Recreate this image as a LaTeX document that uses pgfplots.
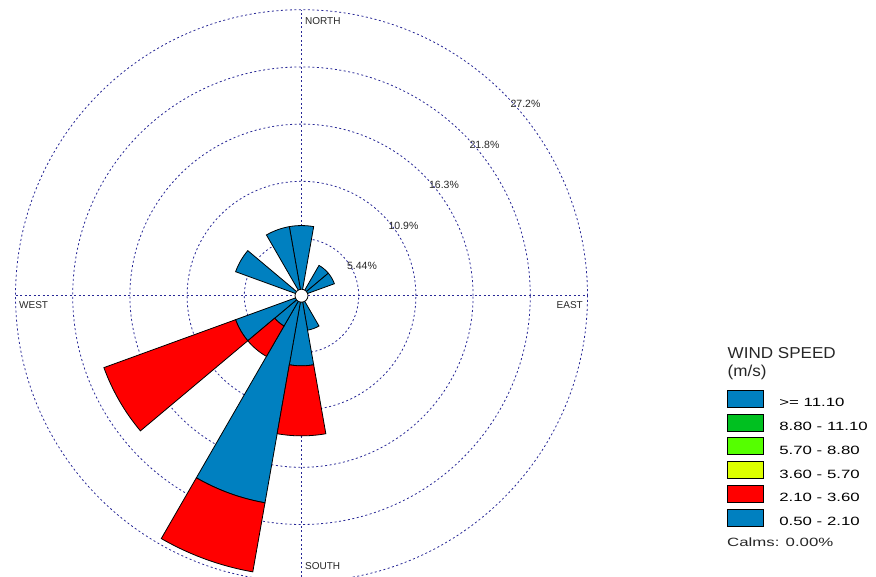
\documentclass[border=0pt]{standalone}
\usepackage{pgfplots}
\pgfplotsset{compat=1.18}
\usepackage{fontspec}
\setmainfont{Liberation Sans}
\newfontfamily\legfont[FakeStretch=1.4]{Liberation Sans}
\newfontfamily\titfont[FakeStretch=1.08]{Liberation Sans}
\definecolor{wblue}{RGB}{0,128,192}
\definecolor{wred}{RGB}{255,0,0}
\definecolor{wgreen}{RGB}{0,192,32}
\definecolor{wlime}{RGB}{85,255,0}
\definecolor{wyellow}{RGB}{221,255,0}
\definecolor{gridnavy}{RGB}{40,40,150}

\def\Uscale{10.5147} % pt per percent (286pt / 27.2)

\pgfplotsset{
  petal/.style={
    scatter, only marks, mark=text, text mark={},
    visualization depends on={\thisrow{dir} \as \pdir},
    visualization depends on={\thisrow{r0} \as \pra},
    visualization depends on={\thisrow{r1} \as \prb},
    scatter/@pre marker code/.code={%
      \pgfmathsetmacro\th{90-\pdir}%
      \pgfmathsetmacro\ta{\th-10}%
      \pgfmathsetmacro\tb{\th+10}%
      \pgfmathsetmacro\ra{max(\pra*\Uscale,0.01)}%
      \pgfmathsetmacro\rb{\prb*\Uscale}%
      \pgfmathsetmacro\ox{-\rb*cos(\th)}%
      \pgfmathsetmacro\oy{-\rb*sin(\th)}%
      \pgfmathsetmacro\xa{\ox+\ra*cos(\ta)}%
      \pgfmathsetmacro\ya{\oy+\ra*sin(\ta)}%
      \pgfmathsetmacro\xb{\ox+\rb*cos(\ta)}%
      \pgfmathsetmacro\yb{\oy+\rb*sin(\ta)}%
      \pgfmathsetmacro\xc{\ox+\ra*cos(\tb)}%
      \pgfmathsetmacro\yc{\oy+\ra*sin(\tb)}%
      \filldraw[fill=#1, draw=black, line width=0.8pt, line join=miter]
        (\xa pt,\ya pt) -- (\xb pt,\yb pt)
        arc[start angle=\ta, end angle=\tb, radius=\rb pt]
        -- (\xc pt,\yc pt)
        arc[start angle=\tb, end angle=\ta, radius=\ra pt] -- cycle;
    },
    scatter/@post marker code/.code={},
  },
}
\tikzset{ring/.style={gridnavy, dash pattern=on 2pt off 2.5pt, line width=0.8pt}}

\begin{document}
\begin{tikzpicture}
\begin{axis}[
  hide axis, scale only axis,
  x=10.5147pt, y=10.5147pt,
  xmin=-28.674, xmax=54.638, ymin=-26.658, ymax=28.122,
  clip=false,
  legend cell align=left,
  legend image code/.code={%
    \draw[#1, draw=black, line width=0.8pt] (0pt,-4pt) rectangle (36pt,13pt);
    \path[draw=none, fill=none] (0pt,0pt) -- (52pt,0pt);},
  legend style={at={(axis description cs:0.8299,0.3229)}, anchor=north west,
    draw=none, fill=none, inner sep=0pt, outer sep=0pt, row sep=5.4pt,
    font=\legfont\fontsize{12}{14}\selectfont,
    nodes={inner sep=0pt}},
]
% grid: rings every 5.44 % and compass lines
\draw[ring] (axis cs:0,0) circle[radius=57.2pt];
\draw[ring] (axis cs:0,0) circle[radius=114.4pt];
\draw[ring] (axis cs:0,0) circle[radius=171.6pt];
\draw[ring] (axis cs:0,0) circle[radius=228.8pt];
\draw[ring] (axis cs:0,0) circle[radius=286pt];
\draw[ring] (axis cs:-27.2,0) -- (axis cs:27.2,0);
\draw[ring] (axis cs:0,-27.2) -- (axis cs:0,27.2);

% 0.50 - 2.10 m/s class: direction (deg from north), inner and outer radius (%)
\addplot[petal=wblue, forget plot] table[x expr={\thisrow{r1}*sin(\thisrow{dir})}, y expr={\thisrow{r1}*cos(\thisrow{dir})}] {
dir r0 r1
0   0 6.67
40  0 3.33
60  0 3.33
160 0 3.33
180 0 6.67
200 0 20.00
220 0 3.33
240 0 6.67
300 0 6.67
340 0 6.67
};
% 2.10 - 3.60 m/s class (stacked on the first)
\addplot[petal=wred, forget plot] table[x expr={\thisrow{r1}*sin(\thisrow{dir})}, y expr={\thisrow{r1}*cos(\thisrow{dir})}] {
dir r0    r1
180 6.67  13.33
200 20.00 26.67
220 3.33  6.67
240 6.67  20.00
};
\coordinate (C) at (axis cs:0,0);

\addlegendimage{fill=wblue}\addlegendentry{>= 11.10}
\addlegendimage{fill=wgreen}\addlegendentry{8.80 - 11.10}
\addlegendimage{fill=wlime}\addlegendentry{5.70 - 8.80}
\addlegendimage{fill=wyellow}\addlegendentry{3.60 - 5.70}
\addlegendimage{fill=wred}\addlegendentry{2.10 - 3.60}
\addlegendimage{fill=wblue}\addlegendentry{0.50 - 2.10}
\end{axis}

% calm circle at the centre
\draw[fill=white, draw=black, line width=0.8pt] (C) circle[radius=6.5pt];

\begin{scope}[every node/.style={inner sep=0pt, text=black!85}]
\node[anchor=west, font=\fontsize{10}{12}\selectfont] at ([shift={(3.5pt,274.7pt)}]C) {NORTH};
\node[anchor=west, font=\fontsize{10}{12}\selectfont] at ([shift={(3.5pt,-270.3pt)}]C) {SOUTH};
\node[anchor=west, font=\fontsize{10}{12}\selectfont] at ([shift={(-282.5pt,-9.8pt)}]C) {WEST};
\node[anchor=east, font=\fontsize{10}{12}\selectfont] at ([shift={(281.5pt,-9.5pt)}]C) {EAST};
\node[font=\fontsize{10.5}{12}\selectfont] at ([shift={(224pt,191.7pt)}]C) {27.2\%};
\node[font=\fontsize{10.5}{12}\selectfont] at ([shift={(183pt,151.2pt)}]C) {21.8\%};
\node[font=\fontsize{10.5}{12}\selectfont] at ([shift={(142.5pt,110.7pt)}]C) {16.3\%};
\node[font=\fontsize{10.5}{12}\selectfont] at ([shift={(102pt,69.7pt)}]C) {10.9\%};
\node[font=\fontsize{10.5}{12}\selectfont] at ([shift={(60.5pt,29.7pt)}]C) {5.44\%};
\node[anchor=base west, font=\titfont\fontsize{15.8}{18}\selectfont] at ([shift={(426pt,-63.3pt)}]C) {WIND SPEED};
\node[anchor=base west, font=\titfont\fontsize{15.8}{18}\selectfont] at ([shift={(426pt,-80.8pt)}]C) {(m/s)};
\node[anchor=base west, font=\legfont\fontsize{12}{14}\selectfont] at ([shift={(425.5pt,-251.3pt)}]C) {Calms: 0.00\%};
\end{scope}

\pgfresetboundingbox
\path ([shift={(-301.5pt,295.7pt)}]C) rectangle ([shift={(574.5pt,-280.3pt)}]C);
\end{tikzpicture}
\end{document}
